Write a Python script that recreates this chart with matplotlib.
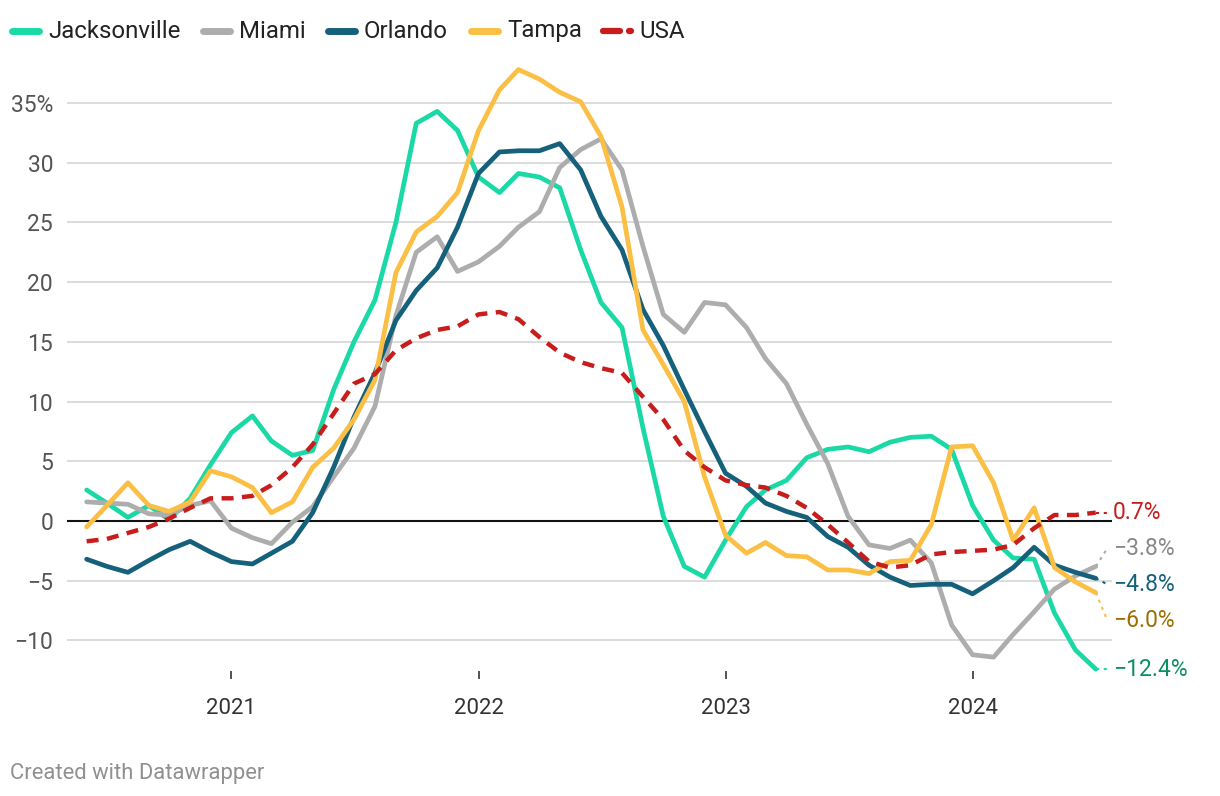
import numpy as np
import pandas as pd
import matplotlib
matplotlib.use('Agg')
import matplotlib.pyplot as plt
from matplotlib.lines import Line2D

plt.rcParams['font.family'] = ['Roboto', 'DejaVu Sans']

# monthly year-over-year change, June 2020 .. July 2024
months = pd.date_range('2020-06-01', periods=50, freq='MS')

jacksonville = [2.6, 1.5, 0.3, 1.3, 0.1, 1.9, 4.7, 7.4, 8.8, 6.7,
                5.5, 5.9, 11.0, 15.0, 18.5, 25.0, 33.3, 34.3, 32.7, 28.8,
                27.5, 29.1, 28.8, 27.9, 22.7, 18.3, 16.2, 7.8, 0.4, -3.8,
                -4.7, -1.6, 1.2, 2.6, 3.4, 5.3, 6.0, 6.2, 5.8, 6.6,
                7.0, 7.1, 6.0, 1.3, -1.6, -3.1, -3.2, -7.7, -10.8, -12.4]
miami = [1.6, 1.5, 1.4, 0.6, 0.5, 1.3, 1.7, -0.6, -1.4, -1.9,
         -0.1, 1.2, 3.7, 6.1, 9.6, 17.2, 22.5, 23.8, 20.9, 21.7,
         23.0, 24.6, 25.9, 29.6, 31.1, 32.0, 29.4, 23.0, 17.3, 15.8,
         18.3, 18.1, 16.2, 13.6, 11.5, 8.1, 4.8, 0.4, -2.0, -2.3,
         -1.6, -3.5, -8.7, -11.2, -11.4, -9.5, -7.6, -5.7, -4.6, -3.8]
orlando = [-3.2, -3.8, -4.3, -3.3, -2.4, -1.7, -2.6, -3.4, -3.6, -2.7,
           -1.7, 0.7, 4.5, 8.7, 12.4, 16.8, 19.3, 21.2, 24.6, 29.1,
           30.9, 31.0, 31.0, 31.6, 29.4, 25.5, 22.7, 17.7, 14.7, 11.0,
           7.5, 4.0, 2.9, 1.5, 0.8, 0.3, -1.3, -2.2, -3.7, -4.7,
           -5.4, -5.3, -5.3, -6.1, -5.0, -3.9, -2.2, -3.7, -4.3, -4.8]
tampa = [-0.5, 1.3, 3.2, 1.3, 0.8, 1.6, 4.2, 3.7, 2.8, 0.7,
         1.6, 4.5, 6.1, 8.5, 11.8, 20.8, 24.2, 25.5, 27.5, 32.7,
         36.1, 37.8, 37.0, 35.9, 35.1, 32.2, 26.3, 16.0, 13.1, 10.0,
         3.7, -1.2, -2.7, -1.8, -2.9, -3.0, -4.1, -4.1, -4.4, -3.4,
         -3.3, -0.3, 6.2, 6.3, 3.2, -1.6, 1.1, -3.9, -5.1, -6.0]
usa = [-1.7, -1.5, -1.0, -0.5, 0.2, 1.1, 1.9, 1.9, 2.1, 3.0,
       4.5, 6.4, 9.0, 11.5, 12.3, 14.3, 15.3, 16.0, 16.3, 17.3,
       17.5, 16.9, 15.4, 14.1, 13.3, 12.8, 12.4, 10.4, 8.5, 5.9,
       4.5, 3.4, 3.0, 2.8, 2.1, 1.1, -0.3, -1.8, -3.4, -3.9,
       -3.7, -2.8, -2.6, -2.5, -2.4, -2.0, -0.6, 0.5, 0.5, 0.7]

names = ['Jacksonville', 'Miami', 'Orlando', 'Tampa', 'USA']
series = [jacksonville, miami, orlando, tampa, usa]
colors = ['#1bd9a6', '#adadad', '#15607a', '#fbbf45', '#c71e1d']
label_colors = ['#0b8f63', '#888888', '#15607a', '#9e6f00', '#c71e1d']

yticks = [-10, -5, 0, 5, 10, 15, 20, 25, 30, 35]
year_ticks = pd.to_datetime(['2021-01-01', '2022-01-01', '2023-01-01', '2024-01-01'])


def spread_labels(values, gap):
    '''Place end labels so they keep at least `gap` apart.
    Overlapping labels are grouped around their mean; the top one stays put.'''
    idx = sorted(range(len(values)), key=lambda k: -values[k])
    clusters = []  # [members, top position, anchored]
    for n, k in enumerate(idx):
        clusters.append([[k], values[k], n == 0])
        while len(clusters) > 1:
            a, b = clusters[-2], clusters[-1]
            a_bottom = a[1] - gap * (len(a[0]) - 1)
            if a_bottom - b[1] >= gap:
                break
            members = a[0] + b[0]
            if a[2]:
                top = a[1]
            else:
                top = np.mean([values[m] for m in members]) + gap * (len(members) - 1) / 2
            clusters[-2:] = [[members, top, a[2]]]
    pos = {}
    for members, top, _ in clusters:
        for j, m in enumerate(members):
            pos[m] = top - j * gap
    return pos


W, H = 1220, 796
fig = plt.figure(figsize=(W / 100, H / 100), dpi=100)
ax = fig.add_axes([67 / W, 1 - 679 / H, (1112 - 67) / W, (679 - 60) / H])

px_per_unit = 418 / 35
ax.set_ylim((521 - 679) / px_per_unit, (521 - 60) / px_per_unit)
ax.set_xlim(months[0] - pd.Timedelta(days=29), months[-1] + pd.Timedelta(days=24))

for y in yticks:
    if y == 0:
        ax.axhline(0, color='#111111', lw=1.5, zorder=2)
    else:
        ax.axhline(y, color='#d9d9d9', lw=1.3, zorder=1)

for name, vals, c in zip(names, series, colors):
    if name == 'USA':
        ax.plot(months, vals, color=c, lw=3.2, dashes=(2.7, 1.9),
                dash_capstyle='butt', solid_joinstyle='round', zorder=4, clip_on=False)
    else:
        ax.plot(months, vals, color=c, lw=3.4, solid_joinstyle='round',
                solid_capstyle='round', zorder=3, clip_on=False)

# end labels
last = [s[-1] for s in series]
label_y = spread_labels(last, 3.0)
end_x = months[-1] + pd.Timedelta(days=17)
for k in range(len(series)):
    v = last[k]
    ly = label_y[k]
    ax.plot([months[-1], end_x], [v, ly], color=colors[k], lw=1.5,
            ls=(0, (1.5, 2.2)), clip_on=False, zorder=3)
    txt = f'{v:.1f}%'.replace('-', '\u2212')
    ax.text(1.001, ly, txt, transform=ax.get_yaxis_transform(), color=label_colors[k],
            fontsize=16.5, va='center', ha='left')

ax.set_yticks(yticks)
ax.set_yticklabels([f'{t}%' if t == 35 else str(t).replace('-', '\u2212') for t in yticks])
ax.tick_params(axis='y', length=0, pad=10, labelsize=16.5, labelcolor='#555555')
ax.set_xticks(year_ticks)
ax.set_xticklabels([str(d.year) for d in year_ticks])
ax.tick_params(axis='x', direction='in', length=6, width=1.2, color='#333333',
               pad=14, labelsize=16, labelcolor='#333333')
for s in ax.spines.values():
    s.set_visible(False)
ax.patch.set_alpha(0)

# legend across the top
legend_x = [10, 201, 326, 469, 601]
ly = 1 - 31 / H
for name, c, x0 in zip(names, colors, legend_x):
    if name == 'USA':
        fig.add_artist(Line2D([(x0 + 2) / W, (x0 + 19) / W], [ly, ly], color=c, lw=4.5,
                              solid_capstyle='round'))
        fig.add_artist(Line2D([(x0 + 28) / W, (x0 + 30) / W], [ly, ly], color=c, lw=4.5,
                              solid_capstyle='round'))
    else:
        fig.add_artist(Line2D([(x0 + 2) / W, (x0 + 29) / W], [ly, ly], color=c, lw=5,
                              solid_capstyle='round'))
    fig.text((x0 + 38) / W, ly, name, fontsize=17.3, color='#222222', va='center', ha='left')

fig.text(10 / W, 1 - 773 / H, 'Created with Datawrapper', fontsize=15.8,
         color='#909090', va='center', ha='left')

fig.savefig('out.png', dpi=100)
